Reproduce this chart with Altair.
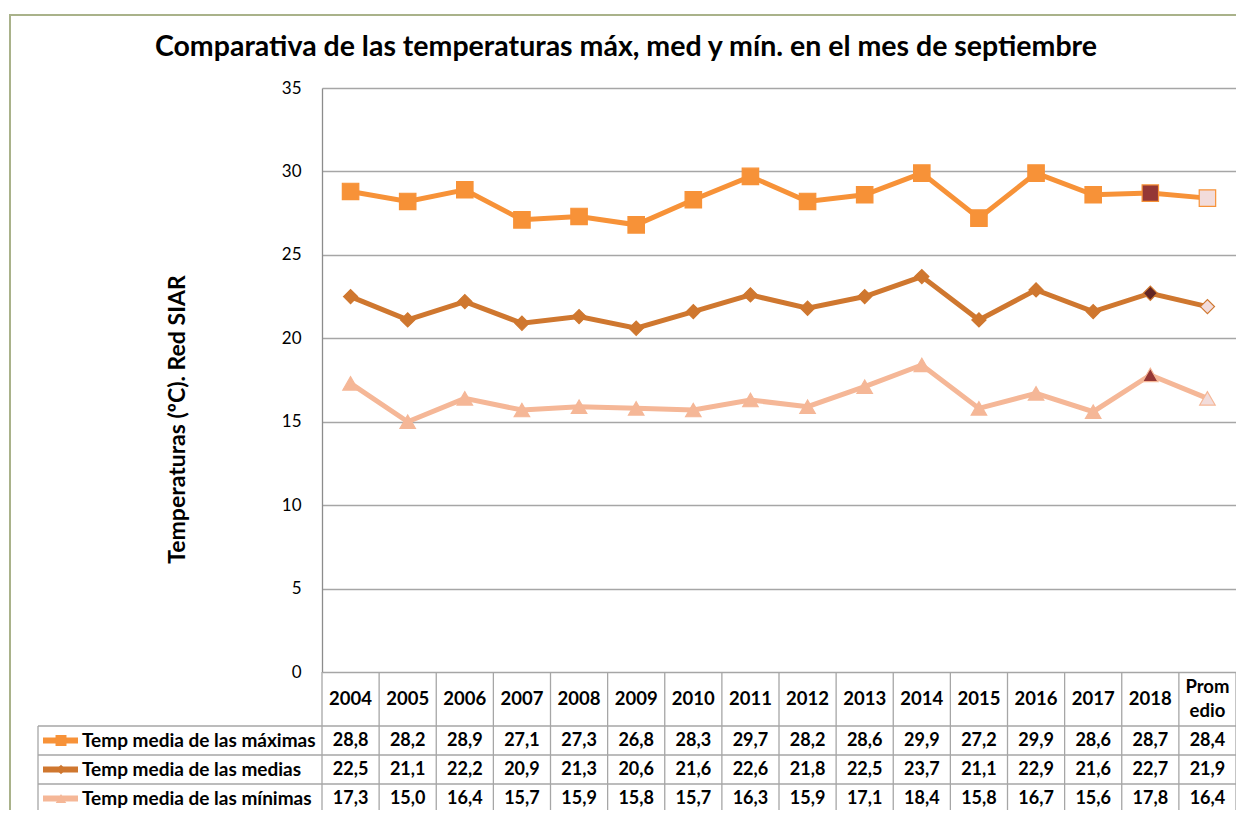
import altair as alt
import pandas as pd

categories = ["2004", "2005", "2006", "2007", "2008", "2009", "2010", "2011",
              "2012", "2013", "2014", "2015", "2016", "2017", "2018", "Promedio"]
header_labels = ["2004", "2005", "2006", "2007", "2008", "2009", "2010", "2011",
                 "2012", "2013", "2014", "2015", "2016", "2017", "2018", "Prom\nedio"]
series_keys = ["max", "med", "min"]
series_names = ["Temp media de las máximas", "Temp media de las medias",
                "Temp media de las mínimas"]
maximas = [28.8, 28.2, 28.9, 27.1, 27.3, 26.8, 28.3, 29.7, 28.2, 28.6, 29.9, 27.2, 29.9, 28.6, 28.7, 28.4]
medias = [22.5, 21.1, 22.2, 20.9, 21.3, 20.6, 21.6, 22.6, 21.8, 22.5, 23.7, 21.1, 22.9, 21.6, 22.7, 21.9]
minimas = [17.3, 15.0, 16.4, 15.7, 15.9, 15.8, 15.7, 16.3, 15.9, 17.1, 18.4, 15.8, 16.7, 15.6, 17.8, 16.4]
y_ticks = [0, 5, 10, 15, 20, 25, 30, 35]

title_text = "Comparativa de las temperaturas máx, med y mín. en el mes de septiembre"
y_title = "Temperaturas (ºC). Red  SIAR"

# ---- build tables from the arrays ----
rows = []
for key, name, vals in zip(series_keys, series_names, [maximas, medias, minimas]):
    for c, v in zip(categories, vals):
        rows.append({"cat": c, "series": key, "name": name, "value": v,
                     "label": f"{v:.1f}".replace(".", ",")})
df = pd.DataFrame(rows)
df_series = pd.DataFrame({"series": series_keys, "name": series_names})
df_head = pd.DataFrame({"cat": categories, "head": header_labels})
df_one = pd.DataFrame({"k": [0]})

# ---- styling ----
W, H = 914, 584
FONT = "Lato"
ser_colors = ["#F79238", "#CF772F", "#F5B797"]
fill_domain = ["max", "max_hl", "max_avg", "med", "med_hl", "med_avg", "min", "min_hl", "min_avg"]
fill_range = ["#F79238", "#953735", "#F2DCDB", "#CF772F", "#632523", "#F2DCDB",
              "#F5B797", "#953735", "#F2DCDB"]
shapes = {"max": "square", "med": "diamond", "min": "triangle-up"}
sizes = {"max": 270, "med": 200, "min": 240}
icon_sizes = {"max": 120, "med": 90, "min": 110}
GRID = "#A6A6A6"
HEAD_Y = 611
ROW_TOP, ROW_BOTTOM = 638, 725
TABLE_LEFT = -284

xband = alt.Scale(domain=categories, type="band", paddingInner=0, paddingOuter=0)
yscale = alt.Scale(domain=[0, 35])
row_scale = alt.Scale(domain=series_keys, type="band", range=[ROW_TOP, ROW_BOTTOM],
                      paddingInner=0, paddingOuter=0)
color_scale = alt.Scale(domain=series_keys, range=ser_colors)

X = alt.X("cat:N", scale=xband, axis=None, bandPosition=0.5)
YROW = alt.Y("series:N", scale=row_scale, axis=None, bandPosition=0.5)

frame = alt.Chart(df_one).mark_rect(filled=False, stroke="#A9B28A", strokeWidth=2).encode(
    x=alt.value(-312), x2=alt.value(930), y=alt.value(-73), y2=alt.value(760))

lines = alt.Chart(df).mark_line(strokeWidth=5).encode(
    x=X,
    y=alt.Y("value:Q", scale=yscale,
            axis=alt.Axis(values=y_ticks, title=y_title, grid=True, gridColor=GRID,
                          gridWidth=1.3, domain=True, domainColor="#8C8C8C", domainWidth=1.3,
                          ticks=False, labelPadding=21, labelFontSize=17, labelFont=FONT,
                          labelColor="#000000", titleFont=FONT, titleFontSize=23,
                          titleFontWeight="bold", titleColor="#000000", titleX=-133,
                          titleY=331, titleAngle=270, titleAlign="center",
                          titleBaseline="bottom")),
    color=alt.Color("series:N", scale=color_scale, legend=None),
    detail="series:N",
)

point_layers = []
for key in series_keys:
    pts = alt.Chart(df).transform_filter(alt.datum.series == key).transform_calculate(
        kind="datum.series + (datum.cat == '2018' ? '_hl' : (datum.cat == 'Promedio' ? '_avg' : ''))"
    ).mark_point(filled=True, shape=shapes[key], size=sizes[key], opacity=1,
                 strokeWidth=1.2).encode(
        x=X,
        y=alt.Y("value:Q", scale=yscale, axis=None),
        fill=alt.Fill("kind:N", scale=alt.Scale(domain=fill_domain, range=fill_range), legend=None),
        stroke=alt.Stroke("series:N", scale=color_scale, legend=None),
    )
    point_layers.append(pts)

# ---- data table ----
vrules = alt.Chart(df_head).mark_rule(color=GRID, strokeWidth=1.3).encode(
    x=alt.X("cat:N", scale=xband, axis=None, bandPosition=0),
    y=alt.value(H), y2=alt.value(760))
vrule_right = alt.Chart(df_one).mark_rule(color=GRID, strokeWidth=1.3).encode(
    x=alt.value(W), y=alt.value(H), y2=alt.value(760))
hrules = alt.Chart(df_series).mark_rule(color=GRID, strokeWidth=1.3).encode(
    y=alt.Y("series:N", scale=row_scale, axis=None, bandPosition=0),
    x=alt.value(TABLE_LEFT), x2=alt.value(W))
left_rule = alt.Chart(df_one).mark_rule(color=GRID, strokeWidth=1.3).encode(
    x=alt.value(TABLE_LEFT), y=alt.value(ROW_TOP), y2=alt.value(760))

head_one = alt.Chart(df_head).transform_filter(
    "indexof(datum.head, '\\n') < 0").mark_text(
    font=FONT, fontSize=18.5, fontWeight="bold", color="#000000", baseline="middle").encode(
    x=X, y=alt.value(HEAD_Y), text="head:N")
head_two = alt.Chart(df_head).transform_filter(
    "indexof(datum.head, '\\n') >= 0").mark_text(
    font=FONT, fontSize=18.5, fontWeight="bold", color="#000000", lineBreak="\n",
    lineHeight=24, baseline="middle").encode(
    x=X, y=alt.value(HEAD_Y - 12), text="head:N")

cell_text = alt.Chart(df).mark_text(font=FONT, fontSize=18, fontWeight="bold",
                                    color="#000000", baseline="middle").encode(
    x=X, y=YROW, text="label:N")

row_text = alt.Chart(df_series).mark_text(font=FONT, fontSize=19, fontWeight="bold",
                                          color="#000000", align="left",
                                          baseline="middle").encode(
    x=alt.value(-240), y=YROW, text="name:N")

icon_line = alt.Chart(df_series).mark_rule(strokeWidth=6).encode(
    x=alt.value(-279), x2=alt.value(-244), y=YROW,
    color=alt.Color("series:N", scale=color_scale, legend=None))

icon_pts = []
for key in series_keys:
    icon_pts.append(alt.Chart(df_series).transform_filter(alt.datum.series == key).mark_point(
        filled=True, shape=shapes[key], size=icon_sizes[key], opacity=1).encode(
        x=alt.value(-261), y=YROW,
        fill=alt.Fill("series:N", scale=color_scale, legend=None)))

chart = alt.layer(
    frame, lines, *point_layers, vrules, vrule_right, hrules, left_rule,
    head_one, head_two, cell_text, row_text, icon_line, *icon_pts
).resolve_scale(y="independent").properties(
    width=W, height=H,
    autosize=alt.AutoSizeParams(type="none"),
    padding={"left": 314, "top": 80, "right": 0, "bottom": 138},
    title=alt.TitleParams(title_text, font=FONT, fontSize=28.5, fontWeight="bold",
                          color="#000000", anchor="middle", offset=-47, dx=-153),
    background="#FFFFFF",
).configure_view(stroke=None)

chart.save("out.html", embed_options={"renderer": "svg", "actions": False})
